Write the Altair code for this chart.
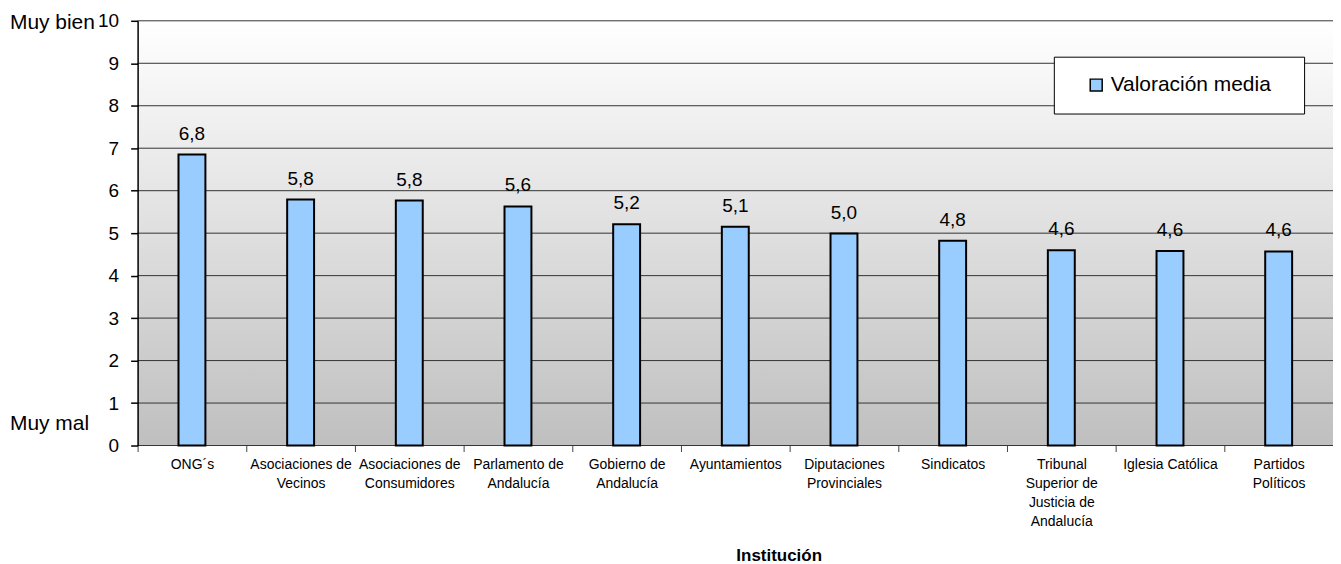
import altair as alt
import pandas as pd

categories = ["ONG´s", "Asociaciones de|Vecinos", "Asociaciones de|Consumidores",
              "Parlamento de|Andalucía", "Gobierno de|Andalucía", "Ayuntamientos",
              "Diputaciones|Provinciales", "Sindicatos",
              "Tribunal|Superior de|Justicia de|Andalucía", "Iglesia Católica",
              "Partidos|Políticos"]
values = [6.85, 5.79, 5.77, 5.63, 5.21, 5.15, 4.99, 4.82, 4.60, 4.58, 4.57]
value_labels = ["6,8", "5,8", "5,8", "5,6", "5,2", "5,1", "5,0", "4,8", "4,6", "4,6", "4,6"]
series_name = "Valoración media"
y_ticks = list(range(0, 11))
side_labels = ["Muy bien", "Muy mal"]
side_pos = [10, 0.56]

W, H = 1199, 426

df = pd.DataFrame({"cat": categories, "v": values, "lab": value_labels,
                   "serie": [series_name] * len(categories)})
grid_df = pd.DataFrame({"v": y_ticks})
side_df = pd.DataFrame({"v": side_pos, "s": side_labels})

yscale = alt.Scale(domain=[0, 10], nice=False, zero=True)
yaxis = alt.Axis(values=y_ticks, grid=False, title=None, labelFontSize=19,
                 labelColor="black", tickSize=7, tickColor="black", tickWidth=1.5,
                 labelPadding=12, domain=True, domainColor="black", domainWidth=1.5,
                 zindex=1)


def Y():
    return alt.Y("v:Q", scale=yscale, axis=yaxis)


xenc = alt.X("cat:N", sort=categories,
             scale=alt.Scale(paddingInner=0, paddingOuter=0),
             axis=alt.Axis(title="Institución", titleFontSize=17, titleFontWeight="bold",
                           titleColor="black", titleX=643, titleY=110, titleBaseline="middle",
                           labelExpr="split(datum.label, '|')", labelAngle=0,
                           labelFontSize=14, labelLineHeight=19, labelPadding=6,
                           labelColor="black", labelLimit=300, labelBaseline="top",
                           tickBand="extent", tickSize=6, tickColor="#444444",
                           domain=False, grid=False, zindex=1))

bg = alt.Chart(pd.DataFrame({"a": [0]})).mark_rect(
    fill={"gradient": "linear", "x1": 0, "y1": 0, "x2": 0, "y2": 1,
          "stops": [{"offset": 0, "color": "#FFFFFF"}, {"offset": 1, "color": "#BFBFBF"}]}
).encode(x=alt.value(0), x2=alt.value(W), y=alt.value(0), y2=alt.value(H))

grid = alt.Chart(grid_df).mark_rule(color="#333333", strokeWidth=1).encode(y=Y())

bars = alt.Chart(df).mark_bar(size=27, stroke="black", strokeWidth=2).encode(
    x=xenc, y=Y(),
    color=alt.Color("serie:N", scale=alt.Scale(range=["#99CCFF"]),
                    legend=alt.Legend(title=None, orient="none", legendX=919, legendY=36,
                                      fillColor="white", strokeColor="black",
                                      padding=18, labelFontSize=21, labelColor="black",
                                      labelLimit=500,
                                      symbolType="square", symbolSize=144,
                                      symbolStrokeColor="black", symbolStrokeWidth=1.5,
                                      symbolOffset=14, labelOffset=4,
                                      labelExpr="datum.label + '\u2800'"))
)

texts = alt.Chart(df).mark_text(dy=-15, baseline="alphabetic", fontSize=19,
                                color="black").encode(x=xenc, y=Y(), text="lab:N")

side = alt.Chart(side_df).mark_text(align="left", baseline="middle", fontSize=21,
                                    color="black", dy=2).encode(
    x=alt.value(-128), y=Y(), text="s:N")

chart = alt.layer(bg, grid, bars, texts, side).properties(
    width=W, height=H,
    autosize=alt.AutoSizeParams(type="none"),
    padding={"left": 130, "top": 12, "right": 0, "bottom": 119},
).configure(font="Liberation Sans").configure_view(stroke=None)

chart.save("out.html", embed_options={"renderer": "svg", "actions": False})
